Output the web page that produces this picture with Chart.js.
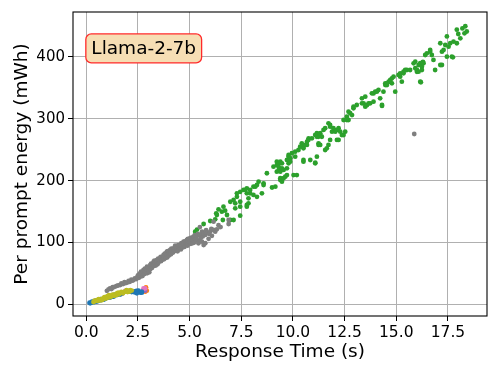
<!DOCTYPE html>
<html>
<head>
<meta charset="utf-8">
<script src="https://cdn.jsdelivr.net/npm/chart.js@4.4.1/dist/chart.umd.min.js"></script>
<style>
  html,body{margin:0;padding:0;background:#fff;}
  #wrap{width:498px;height:374px;}
</style>
</head>
<body>
<div id="wrap"><canvas id="c" width="498" height="374"></canvas></div>
<script>
/* Per prompt energy vs response time, Llama-2-7b */

var xTicks = [0, 2.5, 5, 7.5, 10, 12.5, 15, 17.5];
var yTicks = [0, 100, 200, 300, 400];
var xTitle = 'Response Time (s)';
var yTitle = 'Per prompt energy (mWh)';
var boxLabel = 'Llama-2-7b';

// [response time s, energy mWh]
var bluePts = [
  [0.16,3],[0.19,2],[0.25,3],[0.28,4.5],[0.32,3.5],[0.35,4.5],[0.40,4],[0.45,6],[0.50,4.5],
  [0.60,6],[0.68,8.5],[0.72,7],[0.84,8.4],[0.85,8],[0.90,9],[0.95,10],[1.00,11.5],[1.08,11],
  [1.16,11.6],[1.20,12],[1.25,13],[1.32,12.6],[1.30,13.5],[1.38,16],[1.42,15],[1.50,15.5],
  [1.56,17],[1.56,18],[1.64,16],[1.73,18],[2.10,21],[2.20,20],[2.29,20.7],[2.35,19.5],
  [2.40,21.5],[2.45,21.8],[2.53,22.3],[2.61,19],[2.69,19],[2.69,20.7],[2.45,18]
];
var olivePts = [
  [0.35,4],[0.40,6],[0.45,5.5],[0.52,7],[0.55,6],[0.60,8.5],[0.62,7.5],[0.66,6.5],[0.70,8],
  [0.75,7],[0.78,9.5],[0.80,8],[0.85,10],[0.88,12],[0.92,11],[0.95,9.5],[1.00,12],[1.02,13.5],
  [1.05,11],[1.10,13],[1.10,15],[1.15,12],[1.18,14],[1.20,12.5],[1.25,14.5],[1.28,16],[1.32,15.5],
  [1.35,14],[1.40,16],[1.45,15],[1.48,18],[1.52,17],[1.55,19],[1.58,16.5],[1.60,18],[1.68,18.5],
  [1.70,20.5],[1.75,19],[1.78,18],[1.82,20],[1.90,21],[1.95,23],[1.98,21.5],[2.00,20],[2.05,22],
  [2.10,21],[2.13,23],[2.20,22.5]
];
var pinkPts = [[1.64,18],[1.89,22],[2.77,26],[2.85,26]];
var purplePts = [[1.72,17],[1.81,20],[2.77,23],[2.85,22.3]];
var orangePts = [[2.85,20.7],[2.89,27.8],[2.93,22.3]];
var grayPts = [
  [1.00,22],[1.08,24.5],[1.15,26],[1.22,25],[1.28,28],[1.32,27.8],[1.40,29],[1.48,30],
  [1.55,31],[1.64,31.5],[1.70,34],[1.78,33],[1.85,36],[1.90,34.5],[1.97,35.2],[2.05,38],
  [2.10,36.5],[2.18,40],[2.24,38.5],[2.29,39.6],[2.35,42],[2.42,41],[2.48,44],[2.50,47],
  [2.55,43],[2.58,50],[2.61,45],[2.61,48],[2.65,53],[2.68,47],[2.70,51],[2.72,46],[2.77,55.7],
  [2.80,49],[2.84,58],[2.86,53],[2.90,56],[2.94,50.4],[2.94,61],[2.98,60],[3.00,55],[3.02,58],
  [3.05,52],[3.10,63.8],[3.10,57],[3.14,66],[3.16,61],[3.18,59],[3.20,65],[3.24,64],[3.26,69.1],
  [3.26,62],[3.30,71],[3.33,66],[3.36,63],[3.38,70],[3.40,68],[3.42,71.9],[3.45,65],[3.48,74],
  [3.50,68],[3.52,71],[3.55,73],[3.58,74.6],[3.60,77],[3.62,70],[3.65,72],[3.68,77],[3.72,75],
  [3.74,80],[3.76,73],[3.80,82],[3.82,78],[3.84,75],[3.86,82],[3.90,85.3],[3.92,76],[3.95,86],
  [3.98,80],[4.00,79],[4.02,84],[4.06,88],[4.08,85],[4.10,81],[4.12,90],[4.15,86],[4.18,88],
  [4.20,84],[4.22,90.8],[4.25,86],[4.28,88],[4.30,95],[4.33,92],[4.36,89],[4.39,93.4],[4.42,86],
  [4.45,96],[4.48,91],[4.52,93],[4.55,96.1],[4.58,89],[4.60,99],[4.62,94],[4.65,92],[4.68,98],
  [4.71,101.5],[4.72,96],[4.75,93],[4.78,102],[4.80,97],[4.85,99],[4.87,104.2],[4.90,95],[4.92,106],
  [4.96,100],[5.00,102],[5.03,107],[5.06,98],[5.10,108],[5.12,103],[5.15,99],[5.19,109.5],[5.22,100],
  [5.25,112],[5.30,106],[5.32,104],[5.36,110.7],[5.40,114],[5.43,98.9],[5.48,104],[5.50,125],
  [5.52,112.3],[5.55,108],[5.60,101.5],[5.60,117.6],[5.64,110],[5.68,115],[5.68,96],[5.76,98.9],
  [5.76,112.3],[5.80,120],[5.84,116],[5.92,106],[5.95,114],[6.00,117.6],[6.05,122],[6.08,111],
  [6.16,120.4],[6.16,133.8],[6.24,117.6],[6.32,121.5],[6.40,128],[6.50,125],[6.89,136.5],[6.89,130],
  [15.87,275.4]
];
var greenPts = [
  [5.27,117.6],[5.36,121],[5.68,130],[6.00,134.9],[6.24,137.6],[6.29,147.3],[6.32,144.6],[6.40,153.8],
  [6.56,150],[6.61,136.5],[6.64,158],[6.72,151.5],[6.81,144.6],[6.97,136.5],[6.97,166],[7.13,168.8],
  [7.13,136.5],[7.21,155.4],[7.21,163.5],[7.29,174],[7.29,179.6],[7.45,158],[7.45,166],[7.45,182],
  [7.45,143.5],[7.61,185],[7.69,185],[7.77,179.6],[7.77,187.7],[7.77,160.7],[7.77,158],[7.85,171.5],
  [7.85,163.5],[7.93,179.6],[7.93,185],[8.09,177],[8.09,190.3],[8.18,190.3],[8.26,174],[8.26,193],
  [8.34,198.4],[8.50,179.6],[8.58,195.8],[8.58,193],[8.74,212],[8.99,189],[9.06,222.6],[9.15,190.3],
  [9.22,214.5],[9.22,225],[9.22,230.7],[9.31,228],[9.31,217],[9.31,222.6],[9.39,230.7],[9.39,203.9],
  [9.39,201],[9.39,214.5],[9.47,198.4],[9.47,220],[9.47,228],[9.55,217.3],[9.55,203.9],[9.63,206.5],
  [9.71,220],[9.71,209],[9.71,233.4],[9.79,238.8],[9.79,241.5],[9.79,228],[9.87,230.7],[9.87,236.2],
  [9.95,244.3],[10.03,209],[10.11,238.8],[10.11,246.8],[10.19,209],[10.27,249.6],[10.35,255],[10.43,260.4],
  [10.51,255],[10.51,252.3],[10.51,233.4],[10.51,230.7],[10.60,257.7],[10.68,257.7],[10.68,263],[10.75,265.8],
  [10.76,268.5],[10.84,233.4],[10.92,268.5],[11.08,229],[11.08,273.8],[11.08,228],[11.16,238.8],[11.16,271],
  [11.16,276.6],[11.24,257.7],[11.24,260.4],[11.24,271],[11.32,273.8],[11.32,276.6],[11.32,257.7],[11.40,271],
  [11.48,282],[11.56,249.6],[11.56,284.7],[11.64,252.3],[11.72,257.7],[11.72,292.7],[11.80,290],[11.80,287.2],
  [11.80,265.8],[11.89,279.2],[11.96,284.7],[12.05,279.2],[12.13,282],[12.13,265.8],[12.21,265.8],[12.21,284.7],
  [12.29,279.2],[12.37,273.8],[12.45,273.8],[12.45,298],[12.53,279.2],[12.61,303.4],[12.61,298],[12.69,298],
  [12.69,311.5],[12.77,308.9],[12.86,306],[12.93,317],[12.93,319.5],[13.09,322.3],[13.34,325],[13.34,333],
  [13.42,325],[13.50,319.5],[13.50,335.7],[13.58,322],[13.66,325],[13.74,325],[13.82,341.2],[13.90,341],
  [13.90,327.6],[13.98,343.8],[14.06,343.8],[14.14,346.5],[14.22,333],[14.31,322.3],[14.31,320.7],[14.38,343.8],
  [14.47,354.6],[14.47,357.3],[14.55,357.3],[14.55,354.6],[14.63,360],[14.71,360],[14.71,362.7],[14.79,365.4],
  [14.79,357.3],[14.87,368],[14.95,343.8],[15.11,370.8],[15.19,368],[15.19,373.5],[15.27,360],[15.35,373.5],
  [15.35,376.1],[15.43,378.8],[15.51,378.8],[15.67,378.8],[15.84,389.6],[15.92,392.3],[15.92,381.6],[16.00,376],
  [16.00,378.8],[16.08,386.9],[16.08,376.1],[16.16,389.7],[16.16,360],[16.19,359],[16.24,384.2],[16.24,378.8],
  [16.29,392],[16.32,389.7],[16.40,403],[16.48,405.8],[16.64,411.1],[16.64,408.4],[16.72,403],[16.80,395],
  [16.88,378.8],[17.13,422],[17.13,386.9],[17.21,408.4],[17.21,386.9],[17.29,411.1],[17.37,419.2],[17.45,400.3],
  [17.45,433],[17.53,416.5],[17.61,422],[17.69,400.3],[17.74,399.3],[17.77,424.7],[17.93,422],[17.93,444],
  [18.00,437],[18.10,430],[18.20,446],[18.34,449.5],[18.41,441],[18.30,438]
];

var FONT = 'DejaVu Sans';

function toXY(pts){ return pts.map(function(p){ return {x:p[0], y:p[1]}; }); }
function ds(pts, color){
  return { data: toXY(pts), backgroundColor: color, borderWidth: 0, pointRadius: 2.4, pointHoverRadius: 2.4 };
}

/* axes frame + label box, like the matplotlib text bbox */
var framePlugin = {
  id: 'frame',
  afterDatasetsDraw: function(chart){
    var ctx = chart.ctx, a = chart.chartArea;
    ctx.save();
    ctx.strokeStyle = '#000'; ctx.lineWidth = 1.1;
    ctx.strokeRect(a.left, a.top, a.right - a.left, a.bottom - a.top);

    ctx.font = '18.5px "' + FONT + '"';
    var pad = 5.5, tw = ctx.measureText(boxLabel).width;
    var bx = a.left + 0.031 * (a.right - a.left), by = a.top + 0.072 * (a.bottom - a.top);
    var bw = tw + 2 * pad, bh = 29;
    ctx.beginPath();
    ctx.roundRect(bx, by, bw, bh, pad);
    ctx.fillStyle = '#f6deb4'; ctx.fill();
    ctx.strokeStyle = '#ff2a2a'; ctx.lineWidth = 1.3; ctx.stroke();
    ctx.fillStyle = '#000'; ctx.textBaseline = 'middle'; ctx.textAlign = 'left';
    ctx.fillText(boxLabel, bx + pad, by + bh / 2 + 0.5);
    ctx.restore();
  }
};

new Chart(document.getElementById('c'), {
  type: 'scatter',
  data: {
    datasets: [
      ds(grayPts, '#7f7f7f'),
      ds(greenPts, '#2ca02c'),
      ds(olivePts, '#bcbd22'),
      ds(bluePts, '#1f77b4'),
      ds(pinkPts, '#e377c2'),
      ds(purplePts, '#9467bd'),
      ds(orangePts, '#ff7f0e')
    ]
  },
  options: {
    responsive: false,
    animation: false,
    devicePixelRatio: 1,
    layout: { padding: { top: 12, right: 11, left: 0, bottom: 0 } },
    plugins: { legend: { display: false }, tooltip: { enabled: false } },
    scales: {
      x: {
        type: 'linear', min: -0.64, max: 19.39,
        afterBuildTicks: function(s){ s.ticks = xTicks.map(function(v){ return {value: v}; }); },
        afterFit: function(s){ s.height = 58; },
        ticks: { color: '#000', padding: 3, maxRotation: 0, font: { family: FONT, size: 15.5 },
                 callback: function(v){ return Number(v).toFixed(1); } },
        grid: { color: '#b0b0b0', lineWidth: 1, tickColor: '#000', tickLength: 5 },
        border: { display: false },
        title: { display: true, text: xTitle, color: '#000', padding: { top: 0, bottom: 12.5 },
                 font: { family: FONT, size: 18.5, lineHeight: 1 } }
      },
      y: {
        type: 'linear', min: -18.6, max: 472.5,
        afterBuildTicks: function(s){ s.ticks = yTicks.map(function(v){ return {value: v}; }); },
        afterFit: function(s){ s.width = 73; },
        ticks: { color: '#000', padding: 3, font: { family: FONT, size: 15 },
                 callback: function(v){ return String(v); } },
        grid: { color: '#b0b0b0', lineWidth: 1, tickColor: '#000', tickLength: 5 },
        border: { display: false },
        title: { display: true, text: yTitle, color: '#000', padding: { top: 12.5, bottom: 0 },
                 font: { family: FONT, size: 18.5, lineHeight: 1 } }
      }
    }
  },
  plugins: [framePlugin]
});
</script>
</body>
</html>
